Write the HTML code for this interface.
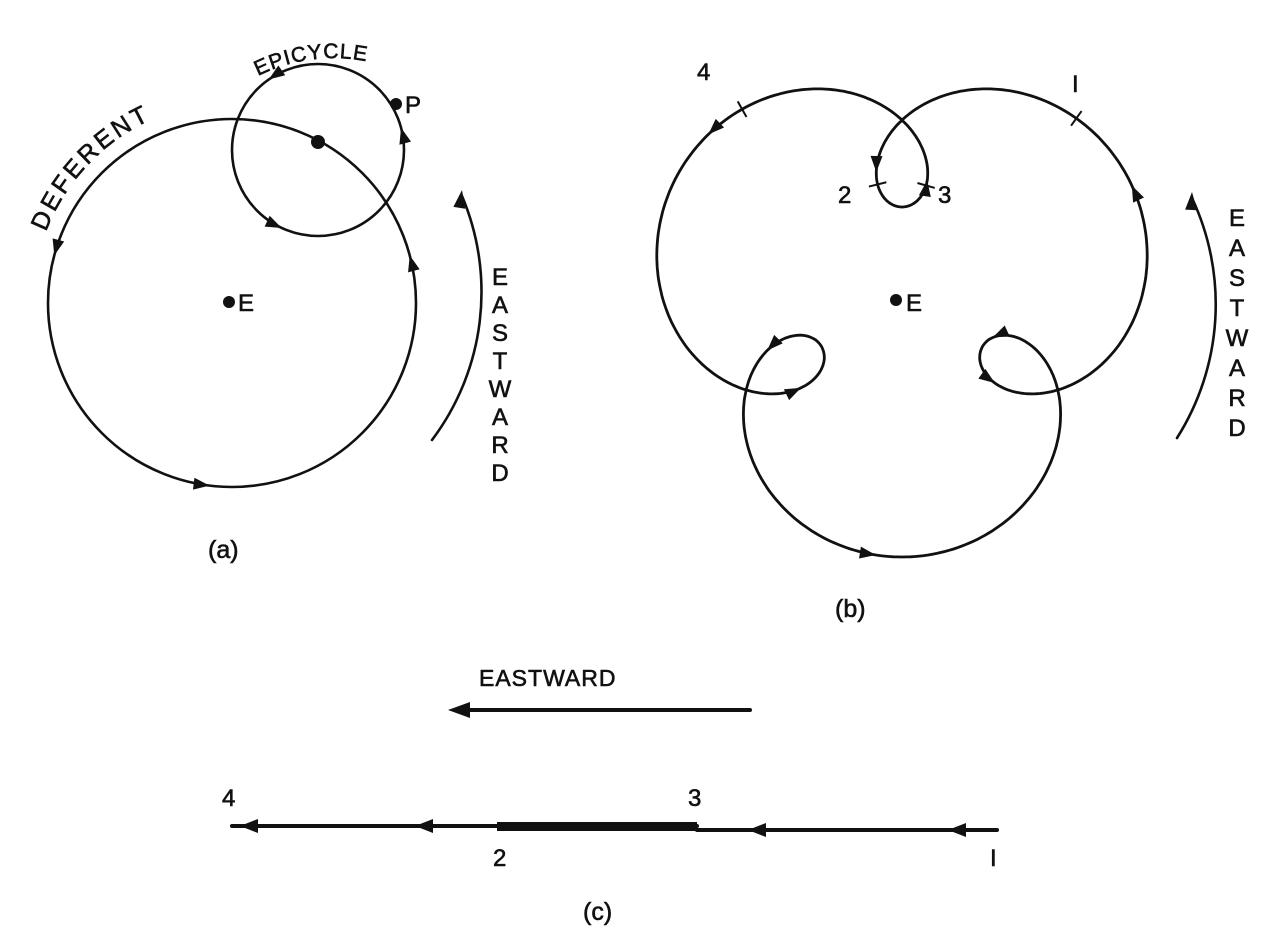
<!DOCTYPE html>
<html><head><meta charset="utf-8"><style>
html,body{margin:0;padding:0;background:#fff;}
svg{display:block;}
text{font-family:"Liberation Sans",sans-serif;fill:#111;stroke:#111;stroke-width:0.6;}
</style></head><body>
<svg id="s" width="1279" height="940" viewBox="0 0 1279 940" xmlns="http://www.w3.org/2000/svg">
<defs>
<path id="defarc" d="M46,232 A205,205 0 0 1 200,104"/>
<path id="epiarc" d="M258,76 A170,170 0 0 1 385,66"/>
</defs>
<g fill="none" stroke="#111" stroke-width="2.6" stroke-linecap="round">
<circle cx="232" cy="303" r="184"/>
<circle cx="318" cy="150" r="86"/>
<path d="M432,440 A246,246 0 0 0 462,196"/>
<path d="M1177,438 A250,250 0 0 0 1192,198"/>
<path id="bpath" stroke-width="2.8"/>
<line x1="750" y1="710" x2="460" y2="710" stroke-width="4"/>
<line x1="232" y1="826" x2="697" y2="826" stroke-width="4"/>
<line x1="697" y1="830" x2="997" y2="830" stroke-width="4"/>
</g>
<rect x="497" y="822" width="200" height="9" fill="#111"/>
<g id="arr" fill="#111"></g>
<circle cx="318" cy="142" r="7" fill="#111"/>
<circle cx="396" cy="104" r="6" fill="#111"/>
<circle cx="229" cy="302" r="6" fill="#111"/>
<circle cx="896" cy="300" r="6" fill="#111"/>
<g font-size="24">
<text x="238" y="311">E</text>
<text x="906" y="311">E</text>
<text x="405" y="113">P</text>
<text font-size="25" letter-spacing="3"><textPath href="#defarc">DEFERENT</textPath></text>
<text font-size="21" letter-spacing="1"><textPath href="#epiarc">EPICYCLE</textPath></text>
<text x="208" y="558" font-size="25">(a)</text>
<text x="835" y="617" font-size="25">(b)</text>
<text x="583" y="920" font-size="25">(c)</text>
<text x="479" y="686" font-size="23" letter-spacing="1">EASTWARD</text>
<text x="697" y="80">4</text>
<text x="1072" y="92">I</text>
<text x="838" y="203">2</text>
<text x="938" y="203">3</text>
<text x="222" y="806">4</text>
<text x="688" y="806">3</text>
<text x="493" y="866">2</text>
<text x="990" y="866">I</text>
</g>
<g font-size="24" text-anchor="middle" id="v1"></g>
</svg>
<script>
var NS="http://www.w3.org/2000/svg",s=document.getElementById('s'),A=document.getElementById('arr');
function arrow(x,y,dx,dy,L,W){L=L||16;W=W||6;var n=Math.hypot(dx,dy);dx/=n;dy/=n;
var bx=x-dx*L,by=y-dy*L,p=document.createElementNS(NS,'polygon');
p.setAttribute('points',x+','+y+' '+(bx-dy*W)+','+(by+dx*W)+' '+(bx+dy*W)+','+(by-dx*W));A.appendChild(p);}
function circArrow(cx,cy,r,deg){var t=deg*Math.PI/180;arrow(cx+r*Math.cos(t),cy+r*Math.sin(t),Math.sin(t),-Math.cos(t));}
circArrow(232,303,184,195);circArrow(232,303,184,97);circArrow(232,303,184,-15);
circArrow(318,150,86,-15);circArrow(318,150,86,-125);circArrow(318,150,86,115);
arrow(462,190,0.15,-1,18,6);arrow(1192,192,0.05,-1,18,6);
arrow(448,710,-1,0,22,8);
[240,415,748,948].forEach(function(x,i){arrow(x,i<2?826:830,-1,0,18,7);});
var E=[902,300],R=175,r=82,ph=Math.PI/2;
function P(t){return [E[0]+R*Math.cos(t)+r*Math.cos(4*t+ph),E[1]+R*Math.sin(t)+r*Math.sin(4*t+ph)];}
var d='';for(var i=0;i<=720;i++){var t=i/720*2*Math.PI,q=P(t);d+=(i?'L':'M')+q[0].toFixed(1)+','+q[1].toFixed(1);}
document.getElementById('bpath').setAttribute('d',d+'Z');
function near(x,y){var bt=0,bd=1e9;for(var i=0;i<3600;i++){var t=i/3600*2*Math.PI,q=P(t),dd=(q[0]-x)*(q[0]-x)+(q[1]-y)*(q[1]-y);if(dd<bd){bd=dd;bt=t;}}return bt;}
function carrow(x,y){var t=near(x,y),q=P(t),q2=P(t-0.002);arrow(q[0],q[1],q2[0]-q[0],q2[1]-q[1]);}
function tick(x,y){var t=near(x,y),q=P(t),q2=P(t+0.002),dx=q2[0]-q[0],dy=q2[1]-q[1],n=Math.hypot(dx,dy);dx/=n;dy/=n;
var l=document.createElementNS(NS,'line');l.setAttribute('x1',q[0]-dy*9);l.setAttribute('y1',q[1]+dx*9);l.setAttribute('x2',q[0]+dy*9);l.setAttribute('y2',q[1]-dx*9);l.setAttribute('stroke','#111');l.setAttribute('stroke-width','2');s.appendChild(l);}
[[700,125],[874,172],[926,180],[1137,183],[875,563],[762,345],[800,386],[1000,354],[986,395]].forEach(function(p){carrow(p[0],p[1]);});
[[727,82],[1075,120],[875,185],[925,185]].forEach(function(p){tick(p[0],p[1]);});
var V=document.getElementById('v1'),w="EASTWARD";
for(var k=0;k<8;k++){[[500,285,28],[1237,226,30]].forEach(function(o){var tx=document.createElementNS(NS,'text');tx.setAttribute('x',o[0]);tx.setAttribute('y',o[1]+k*o[2]);tx.textContent=w[k];V.appendChild(tx);});}
</script>
</body></html>
